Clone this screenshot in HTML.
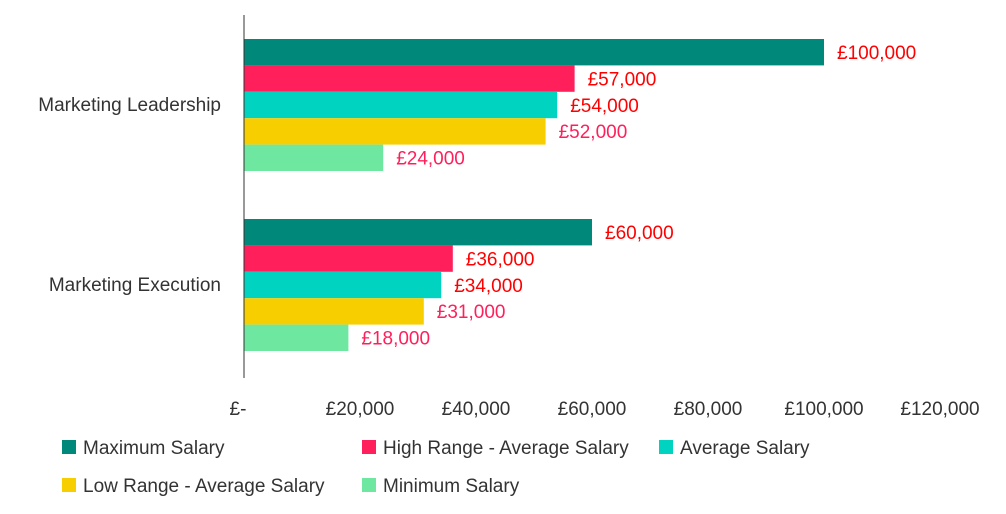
<!DOCTYPE html>
<html><head><meta charset="utf-8"><style>
body{margin:0;background:#fff;}
svg text{font-family:"Liberation Sans",sans-serif;}
</style></head><body>
<svg id="chart" width="1006" height="509" xmlns="http://www.w3.org/2000/svg"></svg>
<script>
const categories=["Marketing Leadership","Marketing Execution"];
const seriesNames=["Maximum Salary","High Range - Average Salary","Average Salary","Low Range - Average Salary","Minimum Salary"];
const maxSalary=[100000,60000];
const highRange=[57000,36000];
const avgSalary=[54000,34000];
const lowRange=[52000,31000];
const minSalary=[24000,18000];
const ticks=[0,20000,40000,60000,80000,100000,120000];
const tickLabels=["£-","£20,000","£40,000","£60,000","£80,000","£100,000","£120,000"];
const colors=["#00897b","#ff1f5a","#00d4c0","#f7cf00","#6ee7a0"];
const labelColors=["#ff0000","#ff0000","#ff0000","#ff1f5a","#ff1f5a"];
const series=[maxSalary,highRange,avgSalary,lowRange,minSalary];
const svg=document.getElementById('chart');
const NS="http://www.w3.org/2000/svg";
const x=v=>244+v*0.0058;
const groupTop=[39,219];
const bh=26.4;
function mk(t,a,txt){const e=document.createElementNS(NS,t);for(const k in a)e.setAttribute(k,a[k]);if(txt!==undefined)e.textContent=txt;svg.appendChild(e);return e;}
categories.forEach((c,ci)=>{
  const t=mk('text',{x:221,y:groupTop[ci]+72,'text-anchor':'end','font-size':19,fill:'#333'},c);
  
  
  series.forEach((s,si)=>{
    const y=groupTop[ci]+si*bh;
    const r=mk('rect',{x:x(0),y:y,width:x(s[ci])-x(0),height:bh,fill:colors[si]});
    
    
    const l=mk('text',{x:x(s[ci])+13,y:y+20,'font-size':19,fill:labelColors[si]},'£'+s[ci].toLocaleString('en-GB'));
    
    
  });
});
const ax=mk('line',{x1:244,y1:15,x2:244,y2:378,stroke:'#333','stroke-width':1});


ticks.forEach((v,i)=>{
  const t=mk('text',{x:i===0?x(v)-6:x(v),y:415,'text-anchor':'middle','font-size':19,fill:'#333'},tickLabels[i]);
  
  
});
const legPos=[[62,447],[362,447],[659,447],[62,485],[362,485]];
seriesNames.forEach((n,i)=>{
  const r=mk('rect',{x:legPos[i][0],y:legPos[i][1]-7,width:14,height:14,fill:colors[i]});
  
  
  const t=mk('text',{x:legPos[i][0]+21,y:legPos[i][1]+7,'font-size':19,fill:'#333'},n);
  
  
});
</script>
</body></html>
